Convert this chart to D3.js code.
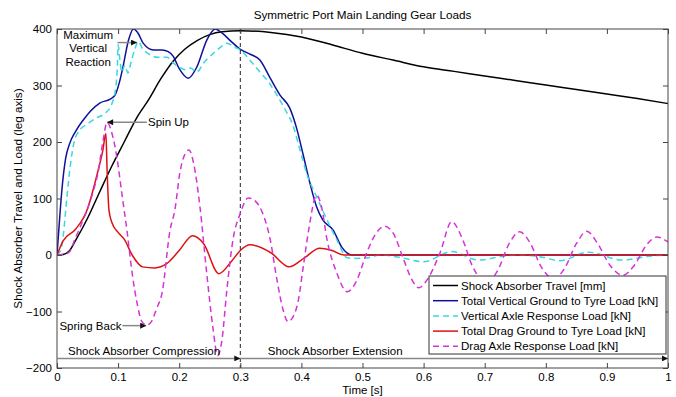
<!DOCTYPE html>
<html>
<head>
<meta charset="utf-8">
<script src="https://cdn.jsdelivr.net/npm/d3@7"></script>
<style>
	body { margin: 0; background: #fff; }
	svg { font-family: "Liberation Sans", Arial, sans-serif; font-size: 11.5px; }
	.axis path { stroke: #444; }
	.axis line { stroke: #444; }
	.axis text { fill: #000; font-size: 11.5px; }
</style>
</head>
<body>
<div id="chart"></div>
<script>
'use strict'
// values, [time s, value]
var travel = [[0,0],[0.01,1],[0.02,7],[0.03,25],[0.05,65],[0.07,112],[0.09,158],[0.11,200],[0.13,242],[0.15,275],[0.17,312],[0.19,343],[0.21,365],[0.23,380],[0.25,390],[0.27,395],[0.3,397],[0.35,394],[0.4,386],[0.45,372],[0.5,357],[0.55,345],[0.6,333],[0.65,325],[0.7,317],[0.75,309],[0.8,301],[0.85,293],[0.9,285],[0.95,277],[1,268]];
var vertGround = [[0,0],[0.004,60],[0.008,115],[0.014,170],[0.021,198],[0.03,218],[0.043,239],[0.055,255],[0.07,269],[0.087,276],[0.095,283],[0.102,305],[0.108,333],[0.117,380],[0.125,400],[0.133,392],[0.141,375],[0.158,363],[0.172,363],[0.182,360],[0.19,352],[0.2,330],[0.215,313],[0.229,333],[0.245,380],[0.259,400],[0.27,393],[0.285,378],[0.3,364],[0.315,356],[0.332,345],[0.349,313],[0.365,283],[0.381,260],[0.392,225],[0.403,177],[0.414,127],[0.425,85],[0.435,62],[0.452,44],[0.466,14],[0.483,0],[1,0]];
var vertAxle = [[0,0],[0.006,8],[0.01,32],[0.016,100],[0.022,160],[0.028,200],[0.035,218],[0.05,232],[0.065,243],[0.08,252],[0.09,268],[0.096,295],[0.099,340],[0.1,372],[0.103,345],[0.106,324],[0.111,336],[0.116,322],[0.122,345],[0.128,366],[0.133,378],[0.14,365],[0.15,356],[0.165,350],[0.18,350],[0.19,340],[0.2,333],[0.21,328],[0.218,331],[0.229,324],[0.24,340],[0.256,357],[0.268,368],[0.278,375],[0.29,368],[0.3,363],[0.318,342],[0.332,324],[0.347,305],[0.36,283],[0.373,258],[0.386,230],[0.398,185],[0.41,140],[0.425,103],[0.442,62],[0.458,27],[0.475,-5],[0.49,-6],[0.507,-5],[0.53,0],[0.56,-4],[0.6,-12],[0.646,6],[0.69,-9],[0.73,-2],[0.758,0],[0.79,-3],[0.823,-10],[0.87,5],[0.925,-9],[0.97,-2],[1,0]];
var dragGround = [[0,0],[0.01,25],[0.03,45],[0.05,82],[0.065,140],[0.075,185],[0.08,215],[0.082,150],[0.085,80],[0.09,57],[0.1,40],[0.11,28],[0.123,0],[0.14,-21],[0.16,-23],[0.18,-15],[0.2,8],[0.222,34],[0.24,20],[0.265,-33],[0.285,-12],[0.3,8],[0.316,18],[0.35,4],[0.38,-21],[0.405,-5],[0.43,12],[0.45,8],[0.47,0],[1,0]];
var dragAxle = [[0,0],[0.01,1],[0.02,5],[0.029,27],[0.04,55],[0.051,85],[0.06,115],[0.067,145],[0.075,200],[0.082,235],[0.09,215],[0.098,173],[0.106,110],[0.115,39],[0.123,-32],[0.131,-85],[0.139,-118],[0.147,-124],[0.155,-117],[0.163,-95],[0.172,-67],[0.185,44],[0.193,80],[0.201,145],[0.208,175],[0.216,186],[0.224,160],[0.234,85],[0.245,-32],[0.255,-127],[0.263,-178],[0.27,-150],[0.278,-62],[0.288,27],[0.3,74],[0.313,101],[0.325,95],[0.335,78],[0.349,27],[0.36,-44],[0.37,-97],[0.378,-118],[0.386,-110],[0.395,-80],[0.403,-21],[0.412,45],[0.425,106],[0.433,85],[0.442,27],[0.458,-32],[0.475,-65],[0.491,-44],[0.507,4],[0.522,38],[0.536,51],[0.55,39],[0.566,-4],[0.58,-42],[0.592,-58],[0.605,-45],[0.627,4],[0.646,59],[0.664,27],[0.68,-20],[0.703,-48],[0.72,-30],[0.74,20],[0.757,41],[0.775,20],[0.792,-20],[0.813,-42],[0.83,-25],[0.85,20],[0.867,42],[0.885,20],[0.905,-18],[0.926,-36],[0.945,-18],[0.965,18],[0.982,32],[1,23]];

var seriesNames = ["Shock Absorber Travel [mm]", "Total Vertical Ground to Tyre Load [kN]", "Vertical Axle Response Load [kN]", "Total Drag Ground to Tyre Load [kN]", "Drag Axle Response Load [kN]"];
var xTicks = [0, 0.1, 0.2, 0.3, 0.4, 0.5, 0.6, 0.7, 0.8, 0.9, 1];
var yTicks = [-200, -100, 0, 100, 200, 300, 400];

var W = 676, H = 397;
var margin = {top: 29, right: 8, bottom: 29, left: 57};
var w = W - margin.left - margin.right, h = H - margin.top - margin.bottom;

var svg = d3.select("#chart").append("svg").attr("width", W).attr("height", H);
var g = svg.append("g").attr("transform", "translate(" + margin.left + "," + margin.top + ")");

var x = d3.scaleLinear().domain([0, 1]).range([0, w]);
var y = d3.scaleLinear().domain([-200, 400]).range([h, 0]);

g.append("rect").attr("width", w).attr("height", h).attr("fill", "#fff");

g.append("defs").append("clipPath").attr("id", "clip")
	.append("rect").attr("width", w).attr("height", h);

var line = d3.line()
	.x(function(d){ return x(d[0]); })
	.y(function(d){ return y(d[1]); })
	.curve(d3.curveMonotoneX);

var styles = [
	{data: travel, color: "#000", dash: null},
	{data: vertGround, color: "#10109a", dash: null},
	{data: vertAxle, color: "#3ad7e0", dash: "6,4"},
	{data: dragGround, color: "#dd1111", dash: null},
	{data: dragAxle, color: "#d633d6", dash: "6,4"}
];

// dashed line at end of compression
g.append("line")
	.attr("x1", x(0.3)).attr("x2", x(0.3)).attr("y1", 0).attr("y2", h)
	.attr("stroke", "#222").attr("stroke-width", 1).attr("stroke-dasharray", "4,3");

var lines = g.append("g").attr("clip-path", "url(#clip)");
styles.forEach(function(s){
	lines.append("path")
		.datum(s.data)
		.attr("d", line)
		.attr("fill", "none")
		.attr("stroke", s.color)
		.attr("stroke-width", 1.5)
		.attr("stroke-dasharray", s.dash);
});

// axes, MATLAB style box with inward ticks
g.append("g").attr("class", "axis").attr("transform", "translate(0," + h + ")")
	.call(d3.axisBottom(x).tickValues(xTicks).tickFormat(d3.format("")).tickSizeInner(-5).tickSizeOuter(0).tickPadding(5));
g.append("g").attr("class", "axis")
	.call(d3.axisTop(x).tickValues(xTicks).tickFormat("").tickSizeInner(-5).tickSizeOuter(0));
g.append("g").attr("class", "axis")
	.call(d3.axisLeft(y).tickValues(yTicks).tickSizeInner(-5).tickSizeOuter(0).tickPadding(5));
g.append("g").attr("class", "axis").attr("transform", "translate(" + w + ",0)")
	.call(d3.axisRight(y).tickValues(yTicks).tickFormat("").tickSizeInner(-5).tickSizeOuter(0));
g.selectAll(".axis .domain").remove();
g.append("rect").attr("width", w).attr("height", h)
	.attr("fill", "none").attr("stroke", "#444").attr("stroke-width", 1);

// arrowhead
svg.append("defs").append("marker")
	.attr("id", "arrow").attr("viewBox", "0 0 10 10")
	.attr("refX", 10).attr("refY", 5)
	.attr("markerWidth", 7).attr("markerHeight", 6)
	.attr("markerUnits", "userSpaceOnUse")
	.attr("orient", "auto")
	.append("path").attr("d", "M0,0 L10,5 L0,10 z").attr("fill", "#111");

function arrow(x1, y1, x2, y2){
	g.append("line")
		.attr("x1", x1).attr("y1", y1).attr("x2", x2).attr("y2", y2)
		.attr("stroke", "#888").attr("stroke-width", 1.5)
		.attr("marker-end", "url(#arrow)");
}

// compression / extension arrows
arrow(x(0), y(-183), x(0.3), y(-183));
arrow(x(0.3), y(-183), x(1), y(-183));
g.append("text").attr("x", x(0.018)).attr("y", y(-177)).text("Shock Absorber Compression");
g.append("text").attr("x", x(0.345)).attr("y", y(-177)).text("Shock Absorber Extension");

// annotations
arrow(x(0.099), y(376), x(0.131), y(376));
var mvr = g.append("text").attr("text-anchor", "middle");
["Maximum", "Vertical", "Reaction"].forEach(function(t, i){
	mvr.append("tspan").attr("x", x(0.051)).attr("y", y(372) - 6 + i * 13.5).text(t);
});
arrow(x(0.147), y(235), x(0.082), y(235));
g.append("text").attr("x", x(0.149)).attr("y", y(235)).attr("dy", "0.35em").text("Spin Up");
arrow(x(0.107), y(-125), x(0.146), y(-125));
g.append("text").attr("x", x(0.004)).attr("y", y(-125)).attr("dy", "0.35em").text("Spring Back");

// legend
var lx = 429 - margin.left, ly = 276 - margin.top;
var legend = g.append("g").attr("transform", "translate(" + lx + "," + ly + ")");
legend.append("rect").attr("width", 237).attr("height", 78)
	.attr("fill", "#fff").attr("stroke", "#333").attr("stroke-width", 1);
seriesNames.forEach(function(name, i){
	var yy = 9.5 + i * 15.2;
	legend.append("line").attr("x1", 4).attr("x2", 29).attr("y1", yy).attr("y2", yy)
		.attr("stroke", styles[i].color).attr("stroke-width", 1.5)
		.attr("stroke-dasharray", styles[i].dash);
	legend.append("text").attr("x", 32).attr("y", yy).attr("dy", "0.35em").text(name);
});

// titles
svg.append("text").attr("x", margin.left + w / 2).attr("y", 19)
	.attr("text-anchor", "middle").style("font-size", "11.7px").text("Symmetric Port Main Landing Gear Loads");
svg.append("text").attr("x", margin.left + w / 2).attr("y", 394)
	.attr("text-anchor", "middle").text("Time [s]");
svg.append("text").attr("transform", "translate(22," + (margin.top + h / 2) + ") rotate(-90)")
	.attr("text-anchor", "middle").style("font-size", "11.7px").text("Shock Absorber Travel and Load (leg axis)");
</script>
</body>
</html>
